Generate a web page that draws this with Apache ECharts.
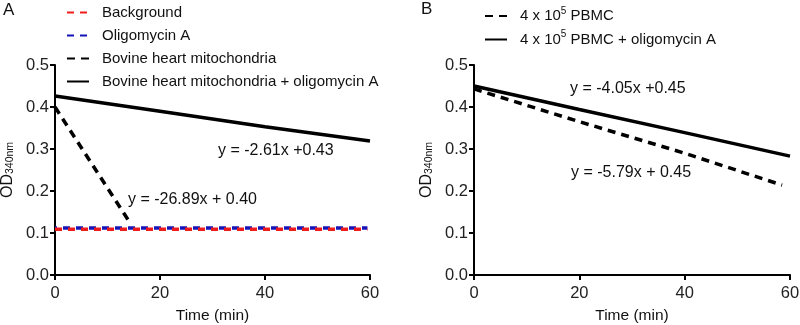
<!DOCTYPE html>
<html>
<head>
<meta charset="utf-8">
<style>
  html, body { margin: 0; padding: 0; background: #fff; }
  #main { width: 800px; height: 325px; }
</style>
<script src="https://cdn.jsdelivr.net/npm/echarts@6/dist/echarts.min.js"></script>
</head>
<body>
<div id="main"></div>
<script>
// time points (min) and OD340nm readings
var bgTime = [0, 20, 40, 59.5];
var background = [0.109, 0.109, 0.109, 0.109];
var oligomycin = [0.112, 0.112, 0.112, 0.112];
var mitoTime = [0, 14];
var mito = [0.40, 0.13];
var timeA = [0, 20, 40, 60];
var mitoOligo = [0.426, 0.390, 0.353, 0.319];

var pbmcTime = [0, 20, 40, 58.5];
var pbmc = [0.443, 0.365, 0.290, 0.214];
var timeB = [0, 20, 40, 60];
var pbmcOligo = [0.450, 0.394, 0.339, 0.283];

var xTicks = [0, 20, 40, 60];
var yTicks = [0.0, 0.1, 0.2, 0.3, 0.4, 0.5];

var namesA = ['Background', 'Oligomycin A', 'Bovine heart mitochondria', 'Bovine heart mitochondria + oligomycin A'];
var namesB = ['4 x 10^5 PBMC', '4 x 10^5 PBMC + oligomycin A'];

function pairs(xs, ys) {
    var out = [];
    for (var i = 0; i < xs.length; i++) out.push([xs[i], ys[i]]);
    return out;
}

var font = '"Liberation Sans", Arial, sans-serif';
var myChart = echarts.init(document.getElementById('main'));

function xAxis(idx) {
    return {
        type: 'value', gridIndex: idx, min: xTicks[0], max: xTicks[xTicks.length - 1], interval: 20,
        name: 'Time (min)', nameLocation: 'middle', nameGap: 33,
        nameTextStyle: { fontFamily: font, fontSize: 15.5, color: '#111' },
        axisLine: { lineStyle: { color: '#000', width: 2 } },
        axisTick: { length: 5, lineStyle: { color: '#000', width: 2 } },
        axisLabel: { fontFamily: font, fontSize: 16.5, color: '#222', margin: 10 },
        splitLine: { show: false }
    };
}
function yAxis(idx) {
    return {
        type: 'value', gridIndex: idx, min: yTicks[0], max: yTicks[yTicks.length - 1], interval: 0.1,
        name: '{a|OD}{s|340nm}', nameLocation: 'middle', nameGap: 39, nameRotate: 90,
        nameTextStyle: {
            fontFamily: font, color: '#111',
            rich: {
                a: { fontFamily: font, fontSize: 16, color: '#111', verticalAlign: 'bottom', lineHeight: 20 },
                s: { fontFamily: font, fontSize: 10.5, color: '#111', verticalAlign: 'bottom', lineHeight: 14 }
            }
        },
        axisLine: { show: true, lineStyle: { color: '#000', width: 2 } },
        axisTick: { show: true, length: 5, lineStyle: { color: '#000', width: 2 } },
        axisLabel: { fontFamily: font, fontSize: 16.5, color: '#222', margin: 6,
            formatter: function (v) { return v.toFixed(1); } },
        splitLine: { show: false }
    };
}

function line(name, data, idx, color, dash, z, offset) {
    return {
        name: name, type: 'line', xAxisIndex: idx, yAxisIndex: idx,
        data: data, showSymbol: false, symbol: 'none', z: z || 2,
        itemStyle: { color: color },
        lineStyle: { color: color, width: 3.5, type: dash || 'solid', dashOffset: offset || 0 },
        animation: false
    };
}

function legendFmt(n) {
    return '{g|}' + n.replace('10^5', '10{sup|5}');
}

var legendText = {
    fontFamily: font, fontSize: 15, color: '#111',
    rich: {
        g: { width: 8 },
        sup: { fontFamily: font, fontSize: 10, color: '#111', verticalAlign: 'top', lineHeight: 20 }
    }
};

var legendDataA = namesA.map(function (n) {
    return { name: n, lineStyle: { dashOffset: 0 } };
});

option = {
    backgroundColor: '#fff',
    animation: false,
    grid: [
        { left: 55, top: 65, width: 315, height: 210, outerBoundsMode: 'none', containLabel: false },
        { left: 474, top: 65, width: 316, height: 210, outerBoundsMode: 'none', containLabel: false }
    ],
    xAxis: [xAxis(0), xAxis(1)],
    yAxis: [yAxis(0), yAxis(1)],
    legend: [
        { data: legendDataA, orient: 'vertical', left: 61, top: 0, itemWidth: 22, itemHeight: 14, itemGap: 8,
          itemStyle: { opacity: 0 }, textStyle: legendText, formatter: legendFmt },
        { data: namesB, orient: 'vertical', left: 479, top: 1, itemWidth: 22, itemHeight: 14, itemGap: 6,
          itemStyle: { opacity: 0 }, textStyle: legendText, formatter: legendFmt }
    ],
    series: [
        line(namesA[0], pairs(bgTime, background), 0, '#f01c1c', [7, 6], 4),
        line(namesA[1], pairs(bgTime, oligomycin), 0, '#1414b8', [7, 6], 3, 5),
        line(namesA[2], pairs(mitoTime, mito), 0, '#000', [8, 6]),
        line(namesA[3], pairs(timeA, mitoOligo), 0, '#000'),
        line(namesB[0], pairs(pbmcTime, pbmc), 1, '#000', [8, 6]),
        line(namesB[1], pairs(timeB, pbmcOligo), 1, '#000')
    ],
    graphic: [
        { type: 'text', left: 3, top: 2, style: { text: 'A', fontFamily: font, fontSize: 17, fill: '#111' } },
        { type: 'text', left: 421, top: 1, style: { text: 'B', fontFamily: font, fontSize: 17, fill: '#111' } },
        { type: 'text', left: 218, top: 143, style: { text: 'y = -2.61x +0.43', fontFamily: font, fontSize: 16, fill: '#111' } },
        { type: 'text', left: 128, top: 192, style: { text: 'y = -26.89x + 0.40', fontFamily: font, fontSize: 16, fill: '#111' } },
        { type: 'text', left: 570, top: 81, style: { text: 'y = -4.05x +0.45', fontFamily: font, fontSize: 16, fill: '#111' } },
        { type: 'text', left: 571, top: 165, style: { text: 'y = -5.79x + 0.45', fontFamily: font, fontSize: 16, fill: '#111' } }
    ]
};

if (option && typeof option === "object") {
    myChart.setOption(option, true);
}
</script>
</body>
</html>
